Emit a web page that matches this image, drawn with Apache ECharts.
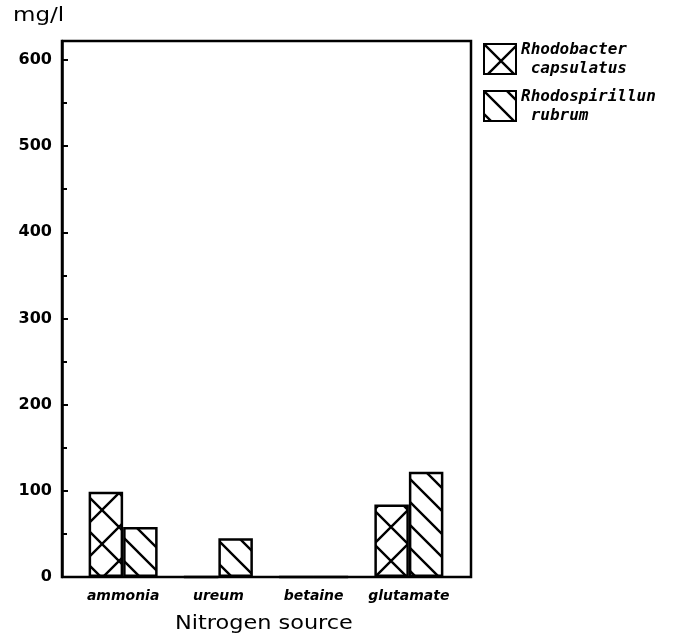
<!DOCTYPE html>
<html>
<head>
<meta charset="utf-8">
<script src="https://cdn.jsdelivr.net/npm/echarts@6/dist/echarts.min.js"></script>
<style>html,body{margin:0;padding:0;background:#fff}#c{width:673px;height:641px}</style>
</head>
<body>
<div id="c"></div>
<script>
const categories = ['ammonia', 'ureum', 'betaine', 'glutamate'];
const seriesNames = ['Rhodobacter capsulatus', 'Rhodospirillun rubrum'];
const legendLines = { 'Rhodobacter capsulatus': 'Rhodobacter\n capsulatus', 'Rhodospirillun rubrum': 'Rhodospirillun\n rubrum' };
const capsulatus = [99, 0, 0, 84];
const rubrum = [58, 45, 0, 122];
const yMin = 0, yMax = 622, yInterval = 100;
const yTicks = [0, 100, 200, 300, 400, 500, 600];
const yUnit = 'mg/l';
const xTitle = 'Nitrogen source';

function makePattern(size, cross) {
  const c = document.createElement('canvas');
  c.width = size; c.height = size;
  const g = c.getContext('2d');
  g.fillStyle = '#fff'; g.fillRect(0, 0, size, size);
  g.strokeStyle = '#000'; g.lineWidth = 2.4;
  g.beginPath();
  for (const k of [-size, 0, size]) {
    g.moveTo(-3, -3 + k); g.lineTo(size + 3, size + 3 + k);
    if (cross) { g.moveTo(-3, size + 3 + k); g.lineTo(size + 3, -3 + k); }
  }
  g.stroke();
  return c;
}
const crossPat = { image: makePattern(34, true), repeat: 'repeat' };
const linePat = { image: makePattern(23, false), repeat: 'repeat' };

const chart = echarts.init(document.getElementById('c'), null, { renderer: 'canvas' });
chart.setOption({
  animation: false,
  backgroundColor: '#fff',
  grid: [
    { left: 62, right: 202, top: 41, bottom: 64, show: true, borderColor: '#000', borderWidth: 2.5, backgroundColor: 'transparent' },
    { left: 75.5, right: 216.5, top: 41, bottom: 64 }
  ],
  legend: {
    orient: 'vertical', left: 478, top: 35, itemGap: 9,
    itemWidth: 32, itemHeight: 30, icon: 'rect',
    data: seriesNames,
    formatter: n => legendLines[n],
    textStyle: { fontFamily: 'DejaVu Sans Mono', fontWeight: 'bold', fontStyle: 'italic', fontSize: 16, lineHeight: 19, color: '#000' }
  },
  graphic: [
    { type: 'text', left: 13, top: 6, scaleX: 1.15, style: { text: yUnit, font: '20px "DejaVu Sans"', fill: '#000' } },
    { type: 'text', left: 175, top: 614, scaleX: 1.12, style: { text: xTitle, font: '20px "DejaVu Sans"', fill: '#000' } }
  ],
  xAxis: [
    { gridIndex: 0, type: 'value', min: 0, max: 1, show: false },
    { gridIndex: 1, type: 'category', data: categories, axisLine: { show: false }, axisTick: { show: false },
      axisLabel: { interval: 0, margin: 12, fontFamily: 'DejaVu Sans', fontWeight: 'bold', fontStyle: 'italic', fontSize: 14, color: '#000' } }
  ],
  yAxis: [
    { gridIndex: 0, type: 'value', min: yMin, max: yMax, interval: yInterval,
      axisLine: { show: true, lineStyle: { color: '#000', width: 2.5 } },
      axisTick: { show: true, inside: true, length: 6, lineStyle: { color: '#000', width: 2 } },
      minorTick: { show: true, splitNumber: 2, length: 5, lineStyle: { color: '#000', width: 2 } },
      splitLine: { show: false },
      axisLabel: { margin: 10, fontFamily: 'DejaVu Sans', fontWeight: 'bold', fontSize: 16, color: '#000',
        formatter: v => yTicks.includes(v) ? String(v) : '' } },
    { gridIndex: 1, type: 'value', min: yMin, max: yMax, show: false }
  ],
  series: [
    { name: seriesNames[0], type: 'bar', xAxisIndex: 1, yAxisIndex: 1, data: capsulatus, barWidth: 34.5, barGap: '0%',
      itemStyle: { color: crossPat, borderColor: '#000', borderWidth: 2.5 } },
    { name: seriesNames[1], type: 'bar', xAxisIndex: 1, yAxisIndex: 1, data: rubrum, barWidth: 34.5, barGap: '0%',
      itemStyle: { color: linePat, borderColor: '#000', borderWidth: 2.5 } }
  ]
});
</script>
</body>
</html>
